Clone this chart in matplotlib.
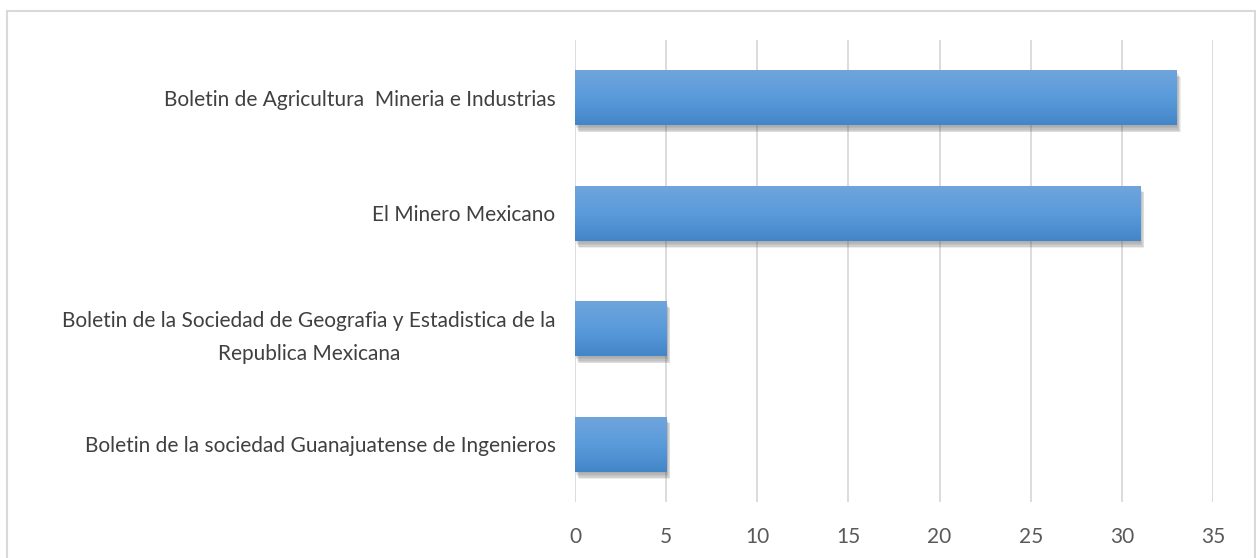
import numpy as np
import matplotlib
matplotlib.use("Agg")
import matplotlib.pyplot as plt
from matplotlib.patches import Rectangle
import matplotlib.patheffects as pe

# datos
categorias = ["Boletin de Agricultura  Mineria e Industrias",
              "El Minero Mexicano",
              "Boletin de la Sociedad de Geografia y Estadistica de la\nRepublica Mexicana",
              "Boletin de la sociedad Guanajuatense de Ingenieros"]
valores = [33, 31, 5, 5]
ticks_x = [0, 5, 10, 15, 20, 25, 30, 35]

plt.rcParams['font.family'] = ['Lato', 'DejaVu Sans']

fig = plt.figure(figsize=(12.56, 5.58), dpi=100)
ax = fig.add_axes([575/1256, 1-502/558, (1213-575)/1256, (502-40)/558])

# marco gris
fig.patches.append(Rectangle((7/1256, -0.01), (1255-7)/1256, 1-11/558+0.01,
                             transform=fig.transFigure, fill=False,
                             edgecolor='#d9d9d9', linewidth=1.5))

y = np.arange(len(categorias))
bars = ax.barh(y, valores, height=0.48, color='#5b9bd5', zorder=3)

# sombra difusa y degradado
sombra = [pe.SimplePatchShadow(offset=(dx, -dy), shadow_rgbFace='#555555', alpha=0.1)
          for dx, dy in [(0.5, 1), (1, 2), (1.5, 3), (2, 4), (2.5, 4.5), (3, 5)]]
grad = np.linspace(0, 1, 100).reshape(-1, 1)
cmap = matplotlib.colors.LinearSegmentedColormap.from_list('g', ['#70a5dc', '#5a9bdb', '#4386c8'])
for b in bars:
    b.set_path_effects(sombra + [pe.Normal()])
    x0, y0 = b.get_x(), b.get_y()
    w, h = b.get_width(), b.get_height()
    im = ax.imshow(grad, cmap=cmap, aspect='auto', extent=[x0, x0 + w, y0 + h, y0],
                   zorder=4, interpolation='bicubic')
    im.set_clip_path(b)

ax.set_xlim(0, 35)
ax.set_ylim(len(categorias) - 0.5, -0.5)
ax.set_xticks(ticks_x)
ax.set_yticks(y)
ax.set_yticklabels(categorias, linespacing=1.8)
for lab in ax.get_yticklabels():
    lab.set_multialignment('center')
ax.grid(axis='x', color='#d9d9d9', linewidth=1.3, zorder=0)
ax.set_axisbelow(True)
for s in ax.spines.values():
    s.set_visible(False)
ax.tick_params(axis='y', length=0, pad=14, labelsize=15, labelcolor='#404040')
ax.tick_params(axis='x', length=0, pad=18, labelsize=15, labelcolor='#595959')

fig.savefig("out.png", dpi=100)
